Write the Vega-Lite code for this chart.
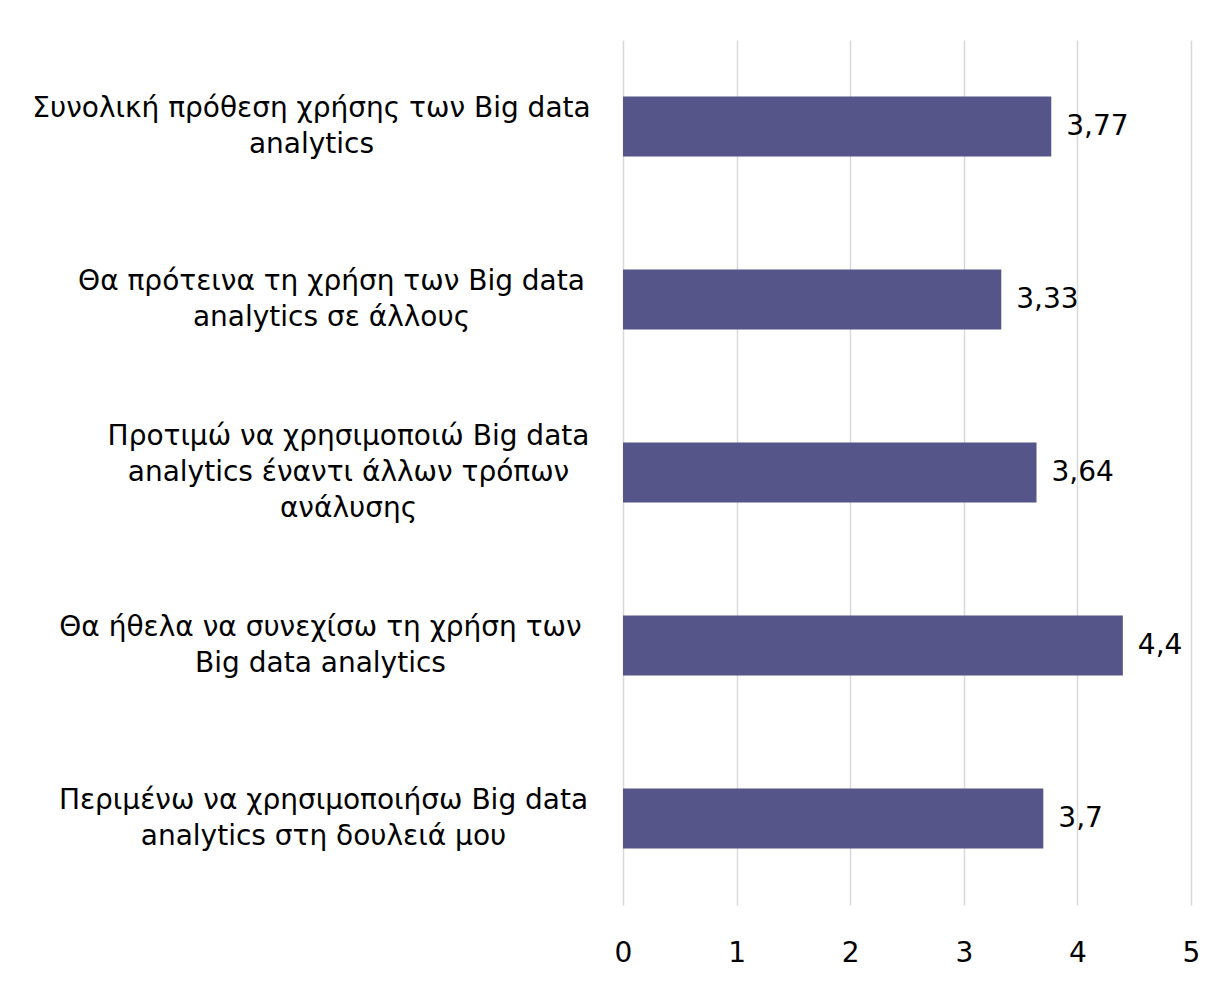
{
  "$schema": "https://vega.github.io/schema/vega-lite/v6.json",
  "width": 568,
  "height": 865,
  "autosize": {"type": "none"},
  "padding": {"left": 623, "top": 40, "right": 30, "bottom": 88},
  "background": "white",
  "data": {
    "values": [
      {"item": "Συνολική πρόθεση χρήσης των Big data|analytics", "mean": 3.77},
      {"item": "Θα πρότεινα τη χρήση των Big data|analytics σε άλλους", "mean": 3.33},
      {"item": "Προτιμώ να χρησιμοποιώ Big data|analytics έναντι άλλων τρόπων|ανάλυσης", "mean": 3.64},
      {"item": "Θα ήθελα να συνεχίσω τη χρήση των|Big data analytics", "mean": 4.4},
      {"item": "Περιμένω να χρησιμοποιήσω Big data|analytics στη δουλειά μου", "mean": 3.7}
    ]
  },
  "encoding": {
    "y": {
      "field": "item",
      "type": "nominal",
      "sort": null,
      "scale": {"paddingInner": 0.653, "paddingOuter": 0.3265},
      "axis": {
        "title": null,
        "domain": false,
        "ticks": false,
        "labelAlign": "center",
        "labelBaseline": "middle",
        "labelPadding": {
          "condition": [
            {"test": "indexof(datum.value, 'Συνολική') === 0", "value": 312},
            {"test": "indexof(datum.value, 'Θα πρότεινα') === 0", "value": 292},
            {"test": "indexof(datum.value, 'Προτιμώ') === 0", "value": 275},
            {"test": "indexof(datum.value, 'Θα ήθελα') === 0", "value": 303}
          ],
          "value": 300
        },
        "labelOffset": {
          "condition": {"test": "length(split(datum.value, '|')) === 3", "value": -36},
          "value": -18
        },
        "labelLimit": 0,
        "labelFont": "DejaVu Sans",
        "labelFontSize": 28,
        "labelColor": "#000000",
        "labelLineHeight": 36,
        "labelExpr": "split(datum.value, '|')"
      }
    },
    "x": {
      "field": "mean",
      "type": "quantitative",
      "scale": {"domain": [0, 5], "nice": false},
      "axis": {
        "title": null,
        "values": [0, 1, 2, 3, 4, 5],
        "domain": false,
        "ticks": false,
        "grid": true,
        "gridColor": "#d9d9d9",
        "gridWidth": 1.5,
        "labelFont": "DejaVu Sans",
        "labelFontSize": 28,
        "labelColor": "#000000",
        "labelBaseline": "middle",
        "labelPadding": 48,
        "labelFlush": false
      }
    }
  },
  "layer": [
    {"mark": {"type": "bar", "color": "#56558a"}},
    {
      "mark": {"type": "text", "align": "left", "baseline": "middle", "dx": 15, "font": "DejaVu Sans", "fontSize": 28, "color": "#000000"},
      "encoding": {"text": {"field": "mean", "type": "quantitative", "format": "~g"}}
    }
  ],
  "config": {
    "view": {"stroke": null},
    "locale": {"number": {"decimal": ",", "thousands": ".", "grouping": [3], "currency": ["", " €"]}}
  }
}
